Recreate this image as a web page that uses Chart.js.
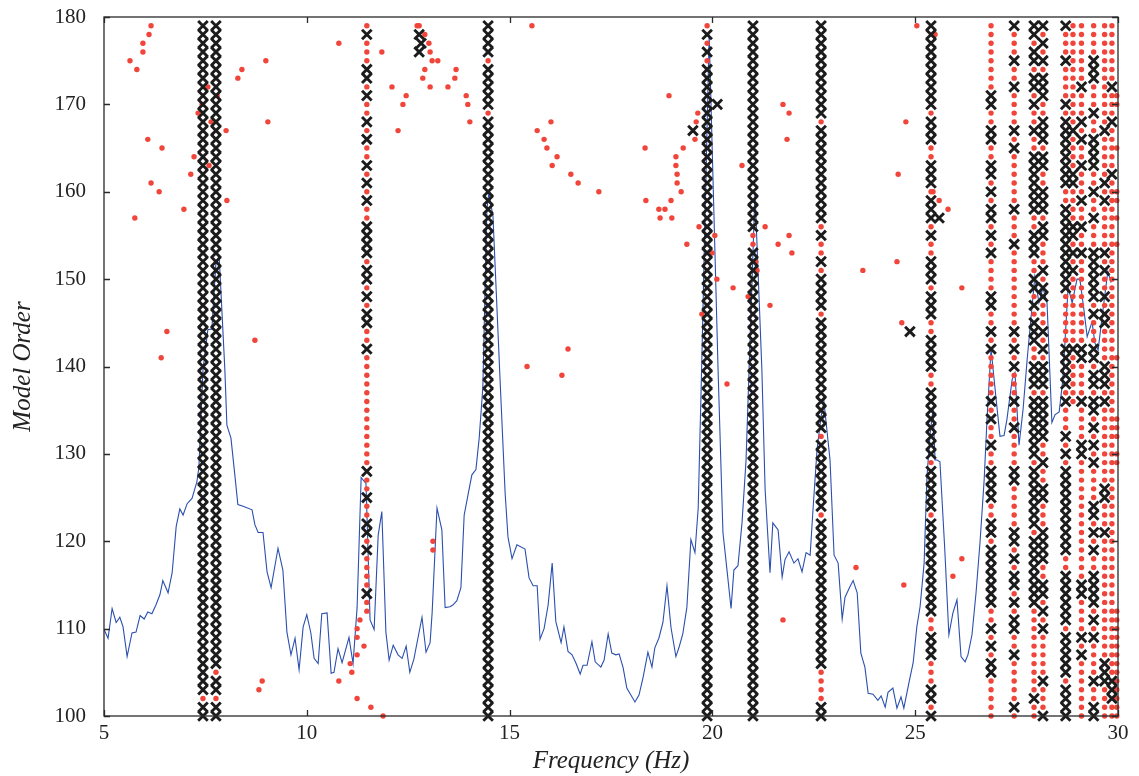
<!DOCTYPE html>
<html>
<head>
<meta charset="utf-8">
<script src="https://cdn.jsdelivr.net/npm/chart.js@4.4.1/dist/chart.umd.min.js"></script>
<style>
  body { margin: 0; background: #fff; }
</style>
</head>
<body>
<canvas id="chart" width="1139" height="776"></canvas>
<script>
// Spectrum curve (blue line)
const LINE_FREQ = [5.00, 5.10, 5.20, 5.30, 5.39, 5.47, 5.57, 5.69, 5.79, 5.89, 5.99, 6.08, 6.18, 6.28, 6.38, 6.45, 6.58, 6.68, 6.78, 6.87, 6.95, 7.05, 7.17, 7.29, 7.34, 7.44, 7.56, 7.66, 7.76, 7.84, 7.98, 8.03, 8.13, 8.23, 8.30, 8.43, 8.65, 8.72, 8.80, 8.92, 9.02, 9.12, 9.29, 9.41, 9.51, 9.61, 9.71, 9.81, 9.91, 10.00, 10.10, 10.18, 10.28, 10.37, 10.50, 10.60, 10.67, 10.77, 10.87, 11.04, 11.14, 11.24, 11.34, 11.46, 11.56, 11.66, 11.76, 11.85, 11.95, 12.03, 12.13, 12.25, 12.35, 12.45, 12.54, 12.64, 12.84, 12.94, 13.04, 13.09, 13.21, 13.33, 13.41, 13.53, 13.60, 13.70, 13.80, 13.88, 13.97, 14.07, 14.17, 14.25, 14.34, 14.44, 14.49, 14.59, 14.76, 14.89, 14.96, 15.06, 15.18, 15.38, 15.48, 15.58, 15.68, 15.75, 15.85, 15.95, 16.05, 16.14, 16.27, 16.34, 16.44, 16.54, 16.64, 16.74, 16.81, 16.91, 17.03, 17.11, 17.25, 17.33, 17.43, 17.52, 17.62, 17.70, 17.80, 17.89, 17.99, 18.09, 18.19, 18.29, 18.41, 18.51, 18.58, 18.68, 18.78, 18.88, 18.98, 19.10, 19.18, 19.27, 19.37, 19.47, 19.57, 19.65, 19.74, 19.92, 20.14, 20.26, 20.36, 20.46, 20.53, 20.63, 20.73, 20.83, 21.05, 21.22, 21.30, 21.42, 21.49, 21.62, 21.72, 21.79, 21.89, 22.01, 22.11, 22.21, 22.31, 22.41, 22.48, 22.58, 22.68, 22.75, 22.90, 23.00, 23.10, 23.20, 23.27, 23.39, 23.47, 23.57, 23.66, 23.76, 23.84, 23.96, 24.08, 24.16, 24.26, 24.33, 24.45, 24.55, 24.65, 24.72, 24.85, 24.95, 25.04, 25.12, 25.22, 25.29, 25.37, 25.44, 25.49, 25.54, 25.61, 25.73, 25.83, 25.93, 26.03, 26.13, 26.23, 26.30, 26.40, 26.50, 26.60, 26.70, 26.77, 26.87, 26.99, 27.09, 27.19, 27.26, 27.39, 27.46, 27.56, 27.66, 27.76, 27.95, 28.05, 28.15, 28.25, 28.37, 28.45, 28.55, 28.64, 28.77, 28.87, 28.99, 29.06, 29.16, 29.24, 29.36, 29.43, 29.51, 29.63, 29.75, 29.83];
const LINE_LEVEL = [109.9, 108.9, 112.3, 110.7, 111.3, 110.2, 106.8, 109.5, 109.6, 111.5, 111.1, 111.9, 111.7, 112.7, 113.9, 115.5, 114.1, 116.4, 121.7, 123.7, 123.0, 124.3, 124.9, 126.8, 128.5, 139.6, 144.2, 144.3, 151.9, 152.6, 139.6, 133.3, 131.8, 127.4, 124.2, 124.0, 123.6, 121.9, 121.0, 121.0, 116.5, 114.7, 119.2, 116.7, 109.6, 107.0, 108.9, 105.3, 110.2, 111.6, 109.5, 106.6, 106.0, 111.7, 111.8, 104.9, 105.0, 107.7, 106.1, 109.0, 106.0, 112.4, 127.3, 126.6, 111.0, 109.9, 120.7, 123.4, 109.6, 106.4, 108.1, 107.0, 106.6, 108.0, 105.0, 106.5, 111.3, 107.3, 108.4, 111.8, 123.8, 121.3, 112.4, 112.5, 112.7, 113.2, 114.7, 123.0, 125.2, 127.6, 128.2, 131.8, 137.6, 158.0, 159.9, 157.2, 139.0, 125.5, 120.5, 118.0, 119.6, 119.1, 115.8, 114.9, 114.9, 108.8, 110.0, 112.7, 117.5, 110.8, 108.4, 110.2, 107.4, 107.0, 106.0, 104.8, 105.8, 105.8, 108.5, 106.2, 105.6, 106.4, 109.4, 107.2, 107.0, 107.1, 105.5, 103.2, 102.4, 101.6, 102.4, 104.4, 107.3, 105.6, 107.8, 108.9, 110.7, 114.9, 110.1, 106.8, 107.9, 109.4, 112.4, 120.2, 118.7, 123.8, 140.8, 178.0, 139.6, 121.0, 116.7, 112.3, 116.7, 117.2, 122.1, 129.3, 159.9, 139.6, 125.9, 116.4, 122.1, 121.3, 115.9, 117.9, 118.8, 117.5, 118.0, 116.5, 118.7, 118.4, 123.6, 130.5, 134.3, 136.0, 129.3, 118.4, 117.5, 111.1, 113.6, 114.8, 115.5, 114.1, 107.2, 105.6, 102.6, 102.5, 101.8, 102.3, 101.0, 102.7, 103.2, 100.9, 102.2, 100.9, 103.9, 106.1, 110.2, 112.5, 117.5, 127.4, 132.4, 135.1, 129.3, 129.3, 129.1, 119.0, 109.3, 111.8, 113.3, 106.8, 106.2, 107.0, 109.3, 114.1, 120.0, 127.0, 133.9, 142.0, 136.5, 132.0, 132.1, 133.9, 138.5, 139.3, 131.0, 135.1, 140.8, 150.3, 147.3, 149.0, 147.3, 133.6, 134.5, 134.8, 138.5, 149.1, 147.3, 150.0, 150.0, 146.5, 143.4, 145.1, 142.7, 141.9, 146.5, 150.9, 149.6];

// Pole columns: one character per model order, from 179 (left) down to 100 (right)
// x = stable pole, o = unstable pole, . = no pole
const TOP_ORDER = 179;
const COLUMN_FREQS = [7.44, 7.76, 11.48, 14.47, 19.87, 21.0, 22.68, 25.39, 26.87, 27.44, 27.93, 28.15, 28.71, 28.89, 29.10, 29.40, 29.67, 29.85, 29.97];
const COLUMN_POLES = [
  'xxxxxxxxxx xxxxxxxxxx xxxxxxxxxx xxxxxxxxxx xxxxxxxxxx xxxxxxxxxx xxxxxxxxxx xxxxxxxoxx',
  'xxxxxxxxxx xxxxxxxxxx xxxxxxxxxx xxxxxxxxxx xxxxxxxxxx xxxxxxxxxx xxxxxxxxxx xxxxoxxoxx',
  'oxoooxxoxo oxoxooxoxo xooxxxxoxx oxoxxooxoo oooooooooo oxooxooxxo xooooxoo.. ..........',
  'xxxxoxxxxx oxxxxxxxxx xxxxxxxxxx xxxxxxxxxx xxxxxxxxxx xxxxxxxxxx xxxxxxxxxx xxxxxxxxxx',
  'oxoxoxxxxx xxxxxxxxxx xxxxxxxxxx xxxxxxxxxx xxxxxxxxxx xxxxxxxxxx xxxxxxxxxx xxxxxxxxxx',
  'xxxxxxxxxx xxxxxxxxxx xxxxooxxxx xxxxxxxxxx xxxxxxxxxx xxxxxxxxxx xxxxxxxxxx xxxxxxxxxx',
  'xxxxxxxxxx xoxxxxxxxx xxxoxooxox xxxoxxxxxx xxxxxxxoxx xxxxxxoxxx xxxxxxxxxx xxxxooooxx',
  'xxxxxxxxxx oxxxooxxxo xxxoxooxxx oxxxooxxxx ooxxxxxxxx oxxxxxoxxx xxxxxxxxoo xxxoooxxox',
  'ooooooooxx ooxxooxxox oxxoxoxooo oxxooxoxoo oooxoxooxo oxxxxooxxo xxxxxxxoox oxoxxooooo',
  'xoooxooxoo ooxoxooooo oxoooxoooo oooooxoxox oooxooxooo oxxoooooxx oxoxxoxoxx ooxoooooxo',
  'xxoxxoxxox ooxooxxxxx xxooxxxoox xoxoxxxoox xxoxxxxxxx oxxxxxxxox xxxxxxxooo oooooooxoo',
  'xoxoxoxxxo oxxxoxxoox xxoxxoooxo xxoooxoxox xxoxxxxxoo xooxxoooxx xxooxxoxox oooooxooox',
  'xoooxoooox oxxxxxxxxo oxxxxxxxxx xooooooxxx xxoxoooxox oxxxxxxxxx xooxxxxxxo xxxxxoxxxx',
  'oooooooooo ooxooooxxo oooxxoxoxo oooooooxoo oooo...... .......... .......... ..........',
  'oooooooxoo oxoxooxooo xooxooxooo oooooooxxo oooxooooxx oooooooooo ooooxxoooo xoxooooooo',
  'ooooxxxooo xooxxxxoox ooxoooxxxx xxoxoooxxo xxoxxoxoxo xooooxxoxo xooxxxxoxo xooooxooxx',
  'oooooooooo ooxoooooxo xoooooxoxo oxoxxoooox xxoxoooooo oooxxoooxo oooooooooo oooxxxoooo',
  'oooooooxoo oxoooooxoo oooooooooo oooooooooo oooooooooo oooooooooo oooooooooo oooooxxxoo',
  '........oo ....o....o o.o..o.... ........o. .....ooo.o o......... .......ooo oooooooooo'
];

// Isolated unstable poles
const SCATTER_FREQ = [6.16, 6.11, 5.96, 5.96, 5.64, 5.81, 6.08, 6.43, 7.22, 7.14, 6.16, 6.36, 6.97, 5.76, 7.59, 8.01, 8.40, 8.30, 8.99, 9.04, 8.03, 6.55, 6.41, 8.72, 7.56, 7.79, 7.42, 7.32, 7.64, 10.79, 11.85, 12.10, 12.25, 12.37, 12.45,
  12.72, 12.77, 12.91, 13.01, 13.04, 13.09, 13.23, 12.91, 12.86, 13.04, 13.48,
  8.82, 8.90, 13.11, 13.11, 11.31, 11.24, 11.24, 11.41, 11.24, 11.07, 11.11, 10.79, 11.24, 11.58, 11.88,
  13.68, 13.65, 13.93, 13.97, 14.02, 15.55, 16.02, 15.68, 15.85, 15.92, 16.17, 16.05, 16.51, 16.69, 17.20, 16.44, 15.43, 16.29,
  18.34, 18.36, 18.68, 18.71, 18.83, 19.00, 18.98, 19.23, 19.13, 19.13, 19.10, 19.10, 19.28, 18.93, 19.57, 19.60, 19.64, 19.37, 19.67, 19.74, 20.36, 21.74, 20.06, 19.99, 20.11,
  21.07, 21.10, 20.88, 20.51, 21.42, 21.30, 21.62, 21.89, 21.74, 21.89, 21.84, 20.73, 21.96,
  23.71, 24.55, 24.58, 24.77, 24.67, 25.04, 25.49, 25.44, 25.59, 25.81, 26.15, 23.54, 24.72, 25.93, 26.15];
const SCATTER_ORDER = [179, 178, 177, 176, 175, 174, 166, 165, 164, 162, 161, 160, 158, 157, 163, 167, 174, 173, 175, 168, 159, 144, 141, 143, 172, 171, 170, 169, 168, 177, 176, 172, 167, 170, 171,
  179, 179, 178, 177, 176, 175, 175, 174, 173, 172, 172,
  103, 104, 120, 119, 111, 110, 109, 108, 107, 106, 105, 104, 102, 101, 100,
  174, 173, 171, 170, 168, 179, 168, 167, 166, 165, 164, 163, 162, 161, 160, 142, 140, 139,
  165, 159, 158, 157, 158, 157, 159, 160, 161, 162, 163, 164, 165, 171, 166, 168, 169, 154, 156, 146, 138, 111, 155, 153, 150,
  152, 151, 148, 149, 147, 156, 154, 155, 170, 169, 166, 163, 153,
  151, 152, 162, 168, 145, 179, 178, 160, 159, 158, 149, 117, 115, 116, 118];

// Isolated stable poles
const LONE_FREQ = [12.77, 12.82, 12.77, 19.52, 20.12, 24.87, 25.59];
const LONE_ORDER = [178, 177, 176, 167, 170, 144, 157];

const FONT = "'Liberation Serif', 'Times New Roman', serif";
const TEXT_COLOR = '#222222';

const stable = LONE_FREQ.map((f, i) => ({ x: f, y: LONE_ORDER[i] }));
const unstable = SCATTER_FREQ.map((f, i) => ({ x: f, y: SCATTER_ORDER[i] }));
COLUMN_FREQS.forEach((f, c) => {
  const marks = COLUMN_POLES[c].replace(/\s/g, '');
  for (let i = 0; i < marks.length; i++) {
    const pt = { x: f, y: TOP_ORDER - i };
    if (marks[i] === 'x') stable.push(pt);
    else if (marks[i] === 'o') unstable.push(pt);
  }
});

// frame with inward ticks on all four sides
const frame = {
  id: 'frame',
  afterDraw(chart) {
    const { ctx, chartArea: { left, right, top, bottom }, scales: { x, y } } = chart;
    ctx.save();
    ctx.strokeStyle = '#2a2a2a';
    ctx.lineWidth = 1.3;
    ctx.strokeRect(left, top, right - left, bottom - top);
    ctx.beginPath();
    x.ticks.forEach(t => {
      const px = Math.round(x.getPixelForValue(t.value)) + 0.5;
      ctx.moveTo(px, bottom); ctx.lineTo(px, bottom - 6);
      ctx.moveTo(px, top); ctx.lineTo(px, top + 6);
    });
    y.ticks.forEach(t => {
      const py = Math.round(y.getPixelForValue(t.value)) + 0.5;
      ctx.moveTo(left, py); ctx.lineTo(left + 6, py);
      ctx.moveTo(right, py); ctx.lineTo(right - 6, py);
    });
    ctx.stroke();
    ctx.restore();
  }
};

new Chart(document.getElementById('chart'), {
  type: 'scatter',
  data: {
    datasets: [
      {
        label: 'Stable',
        data: stable,
        pointStyle: 'crossRot',
        pointRadius: 6.8,
        borderColor: '#1c1c1c',
        backgroundColor: '#1c1c1c',
        borderWidth: 2.9,
        clip: false,
        order: 1
      },
      {
        label: 'Unstable',
        data: unstable,
        pointStyle: 'circle',
        pointRadius: 2.7,
        backgroundColor: '#f0453a',
        borderWidth: 0,
        clip: false,
        order: 2
      },
      {
        type: 'line',
        label: 'Spectrum',
        data: LINE_FREQ.map((f, i) => ({ x: f, y: LINE_LEVEL[i] })),
        borderColor: '#2b4fae',
        borderWidth: 1.1,
        pointRadius: 0,
        tension: 0,
        fill: false,
        order: 3
      }
    ]
  },
  options: {
    responsive: false,
    animation: false,
    events: [],
    layout: { padding: { left: 0, right: 21, top: 17, bottom: 0 } },
    plugins: {
      legend: { display: false },
      tooltip: { enabled: false }
    },
    scales: {
      x: {
        type: 'linear',
        min: 5,
        max: 30,
        ticks: { stepSize: 5, padding: -3, color: TEXT_COLOR, font: { family: FONT, size: 21 } },
        grid: { display: false },
        border: { display: false },
        title: {
          display: true,
          text: 'Frequency (Hz)',
          color: TEXT_COLOR,
          font: { family: FONT, size: 25, style: 'italic' },
          padding: { top: 5, bottom: 0 }
        },
        afterFit: (scale) => {
          scale.height = 60;
          scale.paddingLeft = 0;
          scale.paddingRight = 0;
        }
      },
      y: {
        min: 100,
        max: 180,
        ticks: { stepSize: 10, padding: 10, color: TEXT_COLOR, font: { family: FONT, size: 21 } },
        grid: { display: false },
        border: { display: false },
        title: {
          display: true,
          text: 'Model Order',
          color: TEXT_COLOR,
          font: { family: FONT, size: 25, style: 'italic' },
          padding: { top: 8, bottom: 0 }
        },
        afterFit: (scale) => {
          scale.width = 104;
          scale.paddingTop = 0;
          scale.paddingBottom = 0;
        }
      }
    }
  },
  plugins: [frame]
});
</script>
</body>
</html>
